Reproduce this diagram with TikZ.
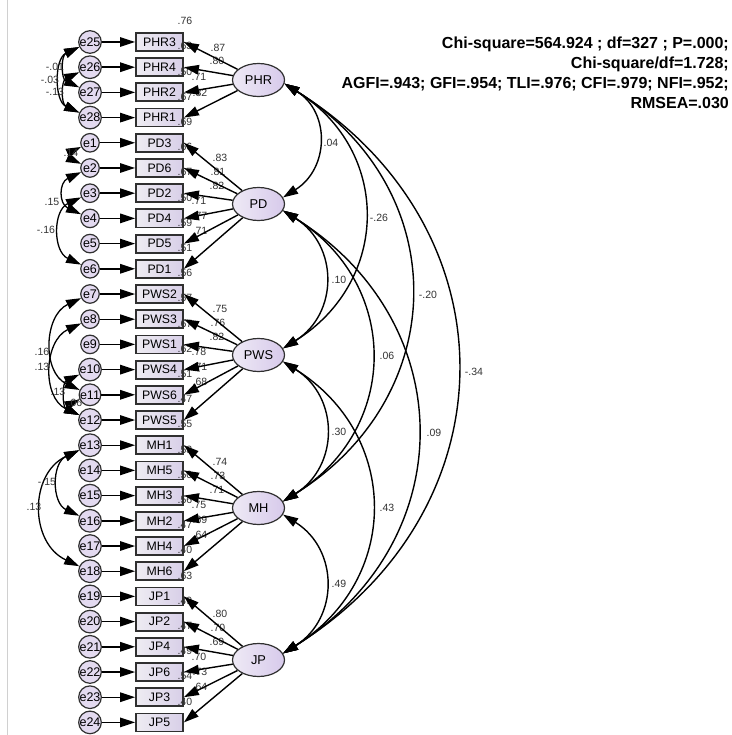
\documentclass[tikz,border=0pt]{standalone}
\usepackage{fontspec}
\setmainfont{Liberation Sans}
\usetikzlibrary{arrows.meta,shapes.geometric}
\definecolor{boxleft}{HTML}{EEECF2}
\definecolor{boxright}{HTML}{D8CFE8}
\definecolor{ovalleft}{HTML}{EEE9F5}
\definecolor{ovalright}{HTML}{D7CAEB}
\definecolor{errfill}{HTML}{E3DAF0}
\definecolor{outline}{HTML}{303030}
\definecolor{sideline}{HTML}{D0D0D0}
\definecolor{coeftext}{HTML}{333333}

\begin{document}
\begin{tikzpicture}[x=1pt, y=1pt,
  >={Triangle[length=15pt, width=9.5pt]},
  errnode/.style={circle, draw=outline, line width=1.2pt, fill=errfill,
    minimum size=18.5pt, inner sep=0pt, font=\fontsize{12.5}{12.5}\selectfont},
  obsnode/.style={rectangle, draw=outline, line width=1.8pt,
    left color=boxleft, right color=boxright,
    minimum width=47pt, minimum height=18pt, inner sep=0pt,
    font=\fontsize{12.3}{12.3}\selectfont},
  latnode/.style={ellipse, draw=outline, line width=1.2pt,
    left color=ovalleft, right color=ovalright,
    minimum width=52pt, minimum height=33pt, inner sep=0pt,
    font=\fontsize{12.8}{12.8}\selectfont},
  coef/.style={inner sep=0pt, text=coeftext, font=\fontsize{10.5}{10.5}\selectfont},
  fitline/.style={font=\bfseries\fontsize{16}{16}\selectfont, inner sep=0pt, anchor=base east},
  regarrow/.style={->, line width=1.4pt},
  covarc/.style={<->, line width=1.4pt, out=-32, in=32, looseness=1.22},
  errcov/.style={<->, line width=1.3pt, out=205, in=155},
]
\useasboundingbox (0,0) rectangle (731,-735);

% thin frame line on the left
\draw[sideline, line width=1pt] (7,0) -- (7,-735);

% latent factors
\node[latnode] (PHR) at (258.5,-80)  {PHR};
\node[latnode] (PD)  at (258.5,-204) {PD};
\node[latnode] (PWS) at (258.5,-355) {PWS};
\node[latnode] (MH)  at (258.5,-508) {MH};
\node[latnode] (JP)  at (258.5,-660) {JP};

% error terms, indicators, squared multiple correlations and loadings
\foreach \err/\obs/\lat/\ldg/\lbx/\lby/\rsq [count=\i from 0] in {
  e25/PHR3/PHR/.87/218/48/.76,
  e26/PHR4/PHR/.80/217/61/.63,
  e27/PHR2/PHR/.71/199/77/.50,
  e28/PHR1/PHR/.82/200/93/.67,
  e1/PD3/PD/.83/220/158/.69,
  e2/PD6/PD/.81/218/172/.66,
  e3/PD2/PD/.82/217/186/.67,
  e4/PD4/PD/.71/199/201/.50,
  e5/PD5/PD/.77/200/216/.59,
  e6/PD1/PD/.71/200/231/.51,
  e7/PWS2/PWS/.75/220/309/.56,
  e8/PWS3/PWS/.76/218/323/.57,
  e9/PWS1/PWS/.82/217/337/.67,
  e10/PWS4/PWS/.78/199/352/.62,
  e11/PWS6/PWS/.71/200/367/.51,
  e12/PWS5/PWS/.68/200/382/.47,
  e13/MH1/MH/.74/220/462/.55,
  e14/MH5/MH/.73/218/476/.53,
  e15/MH3/MH/.71/217/490/.50,
  e16/MH2/MH/.75/199/505/.56,
  e17/MH4/MH/.69/200/520/.47,
  e18/MH6/MH/.64/200/535/.40,
  e19/JP1/JP/.80/220/614/.63,
  e20/JP2/JP/.70/218/628/.49,
  e21/JP4/JP/.69/217/642/.47,
  e22/JP6/JP/.70/199/657/.49,
  e23/JP3/JP/.73/200/672/.54,
  e24/JP5/JP/.64/200/687/.40} {
  \pgfmathsetmacro\rowy{42+25.2*\i}
  \node[errnode] (\err) at (90,-\rowy) {\err};
  \node[obsnode] (\obs) at (159.5,-\rowy) {\obs};
  \node[coef] (r2-\obs) at (185,-\rowy+21) {\rsq};
  \node[coef] (ld-\obs) at (\lbx,-\lby) {\ldg};
}

% arrows from errors and factors to indicators
\foreach \err/\obs/\lat in {
  e25/PHR3/PHR, e26/PHR4/PHR, e27/PHR2/PHR, e28/PHR1/PHR,
  e1/PD3/PD, e2/PD6/PD, e3/PD2/PD, e4/PD4/PD, e5/PD5/PD, e6/PD1/PD,
  e7/PWS2/PWS, e8/PWS3/PWS, e9/PWS1/PWS, e10/PWS4/PWS, e11/PWS6/PWS, e12/PWS5/PWS,
  e13/MH1/MH, e14/MH5/MH, e15/MH3/MH, e16/MH2/MH, e17/MH4/MH, e18/MH6/MH,
  e19/JP1/JP, e20/JP2/JP, e21/JP4/JP, e22/JP6/JP, e23/JP3/JP, e24/JP5/JP} {
  \draw[regarrow] (\err) -- (\obs);
  \draw[regarrow] (\lat) -- (\obs.east);
}

% correlated errors
\draw[errcov] (e25) to[looseness=1.08] (e28);
\draw[errcov] (e25) to[looseness=1.28] (e27);
\draw[errcov] (e26) to[looseness=1.28] (e28);
\draw[errcov] (e1)  to[looseness=1.8]  (e2);
\draw[errcov] (e2)  to[looseness=1.5]  (e4);
\draw[errcov] (e3)  to[looseness=1.19] (e6);
\draw[errcov] (e7)  to[looseness=1.15] (e11);
\draw[errcov] (e8)  to[looseness=1.15] (e12);
\draw[errcov] (e10) to[looseness=1.19] (e12);
\draw[errcov] (e11) to[looseness=1.6]  (e12);
\draw[errcov] (e13) to[looseness=1.19] (e16);
\draw[errcov] (e13) to[looseness=1.22] (e18);

\node[coef] (c-e25e27) at (55,-67)  {-.01};
\node[coef] (c-e25e28) at (50,-80)  {-.03};
\node[coef] (c-e26e28) at (55,-92)  {-.13};
\node[coef] (c-e1e2)   at (71,-153) {.14};
\node[coef] (c-e2e4)   at (52,-202) {.15};
\node[coef] (c-e3e6)   at (46,-230) {-.16};
\node[coef] (c-e7e11)  at (42,-352) {.16};
\node[coef] (c-e8e12)  at (42,-367) {.13};
\node[coef] (c-e10e12) at (58,-392) {.13};
\node[coef] (c-e11e12) at (75,-403) {.06};
\node[coef] (c-e13e16) at (47,-482) {-.15};
\node[coef] (c-e13e18) at (34,-507) {.13};

% factor correlations
\draw[covarc] (PHR.-8)  to (PD.15);
\draw[covarc] (PHR.-8)  to (PWS.15);
\draw[covarc] (PHR.-8)  to (MH.15);
\draw[covarc] (PHR.-8)  to (JP.15);
\draw[covarc] (PD.-15)  to (PWS.15);
\draw[covarc] (PD.-15)  to (MH.15);
\draw[covarc] (PD.-15)  to (JP.15);
\draw[covarc] (PWS.-15) to (MH.15);
\draw[covarc] (PWS.-15) to (JP.15);
\draw[covarc] (MH.-15)  to (JP.15);

\node[coef] (r-PHR-PD)  at (331,-143) {.04};
\node[coef] (r-PHR-PWS) at (379,-218) {-.26};
\node[coef] (r-PHR-MH)  at (428,-295) {-.20};
\node[coef] (r-PHR-JP)  at (474,-372) {-.34};
\node[coef] (r-PD-PWS)  at (339,-280) {.10};
\node[coef] (r-PD-MH)   at (387,-356) {.06};
\node[coef] (r-PD-JP)   at (434,-433) {.09};
\node[coef] (r-PWS-MH)  at (339,-432) {.30};
\node[coef] (r-PWS-JP)  at (387,-508) {.43};
\node[coef] (r-MH-JP)   at (339,-584) {.49};

% fit indices
\node[fitline] (fit1) at (729,-48.3)  {Chi-square=564.924 ; df=327 ; P=.000;};
\node[fitline] (fit2) at (729,-68.3)  {Chi-square/df=1.728;};
\node[fitline] (fit3) at (729,-88.3)  {AGFI=.943; GFI=.954; TLI=.976; CFI=.979; NFI=.952;};
\node[fitline] (fit4) at (729,-108.3) {RMSEA=.030};
\end{tikzpicture}
\end{document}
